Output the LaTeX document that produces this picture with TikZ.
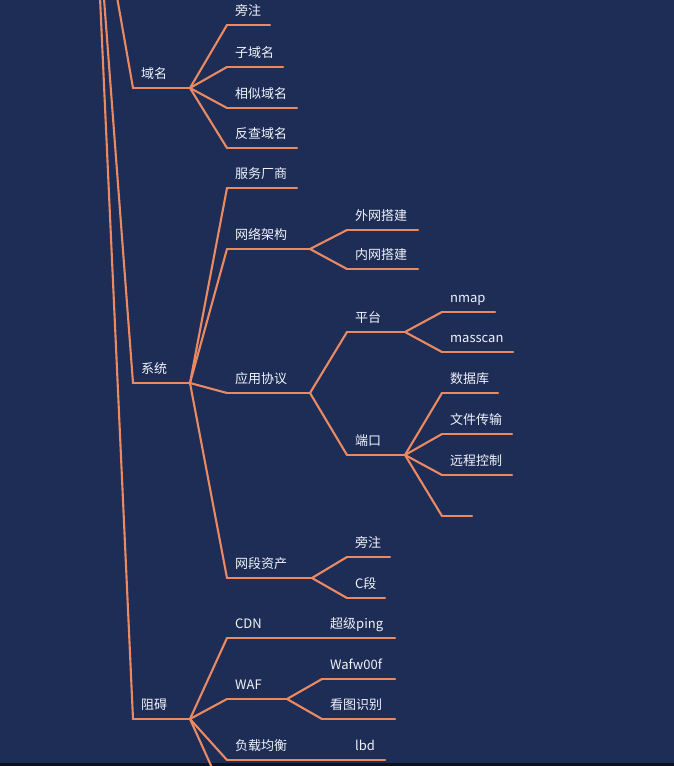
\documentclass[tikz,border=0pt]{standalone}
\usepackage{fontspec}
\setmainfont{Noto Sans CJK SC}
\definecolor{bgblue}{HTML}{1E2D56}
\definecolor{branchorange}{HTML}{EB8A62}
\definecolor{labelwhite}{HTML}{F0F3FA}
\tikzset{
  branch/.style={draw=branchorange, line width=2.1pt, line cap=round, line join=round},
  topic/.style={text=labelwhite, font=\fontsize{13}{13}\selectfont, anchor=base west, inner sep=0pt},
}
% name, left x, right x, y of the underline, text
\newcommand{\mmtopic}[5]{%
  \coordinate (#1-l) at (#2,#4);
  \coordinate (#1-r) at (#3,#4);
  \node[topic] (#1) at (#2+8,#4-10) {#5};
  \draw[branch] (#1-l) -- (#1-r);
}

\begin{document}
\begin{tikzpicture}[x=1pt, y=-1pt]
\useasboundingbox (0,0) rectangle (674,766);
\clip (0,0) rectangle (674,766);
\fill[bgblue] (0,0) rectangle (674,766);
\fill[black!60!bgblue] (0,763) rectangle (674,766);

\coordinate (root) at (94,-134);

% first level
\mmtopic{domain}{133}{190}{88}{域名}
\mmtopic{system}{133}{190}{383}{系统}
\mmtopic{block}{133}{190}{719}{阻碍}
\foreach \t in {domain, system, block}
  \draw[branch] (root) -- (\t-l);

% 域名
\mmtopic{dside}{227}{270}{25}{旁注}
\mmtopic{dsub}{227}{283}{67}{子域名}
\mmtopic{dsimilar}{227}{297}{108}{相似域名}
\mmtopic{dreverse}{227}{297}{148}{反查域名}
\foreach \t in {dside, dsub, dsimilar, dreverse}
  \draw[branch] (domain-r) -- (\t-l);

% 系统
\mmtopic{vendor}{227}{297}{188}{服务厂商}
\mmtopic{network}{227}{310}{249}{网络架构}
\mmtopic{proto}{227}{310}{393}{应用协议}
\mmtopic{segment}{227}{312}{578}{网段资产}
\foreach \t in {vendor, network, proto, segment}
  \draw[branch] (system-r) -- (\t-l);

\mmtopic{outer}{347}{418}{230}{外网搭建}
\mmtopic{inner}{347}{418}{269}{内网搭建}
\foreach \t in {outer, inner}
  \draw[branch] (network-r) -- (\t-l);

\mmtopic{platform}{347}{405}{332}{平台}
\mmtopic{port}{347}{405}{455}{端口}
\foreach \t in {platform, port}
  \draw[branch] (proto-r) -- (\t-l);

\mmtopic{nmap}{442}{495}{312}{nmap}
\mmtopic{masscan}{442}{513}{352}{masscan}
\foreach \t in {nmap, masscan}
  \draw[branch] (platform-r) -- (\t-l);

\mmtopic{database}{442}{498}{393}{数据库}
\mmtopic{transfer}{442}{512}{434}{文件传输}
\mmtopic{remote}{442}{512}{475}{远程控制}
\mmtopic{blank}{442}{472}{516}{}
\foreach \t in {database, transfer, remote, blank}
  \draw[branch] (port-r) -- (\t-l);

\mmtopic{sside}{347}{390}{557}{旁注}
\mmtopic{cseg}{347}{385}{598}{C段}
\foreach \t in {sside, cseg}
  \draw[branch] (segment-r) -- (\t-l);

% 阻碍
\mmtopic{cdn}{227}{287}{638}{CDN}
\mmtopic{waf}{227}{287}{699}{WAF}
\mmtopic{balance}{227}{310}{760}{负载均衡}
\coordinate (hidden-l) at (227,801);
\foreach \t in {cdn, waf, balance, hidden}
  \draw[branch] (block-r) -- (\t-l);

\mmtopic{ping}{322}{395}{638}{超级ping}
\draw[branch] (cdn-r) -- (ping-l);

\mmtopic{wafw}{322}{395}{679}{Wafw00f}
\mmtopic{lookid}{322}{395}{719}{看图识别}
\foreach \t in {wafw, lookid}
  \draw[branch] (waf-r) -- (\t-l);

\mmtopic{lbd}{347}{385}{760}{lbd}
\draw[branch] (balance-r) -- (lbd-l);

\end{tikzpicture}
\end{document}
